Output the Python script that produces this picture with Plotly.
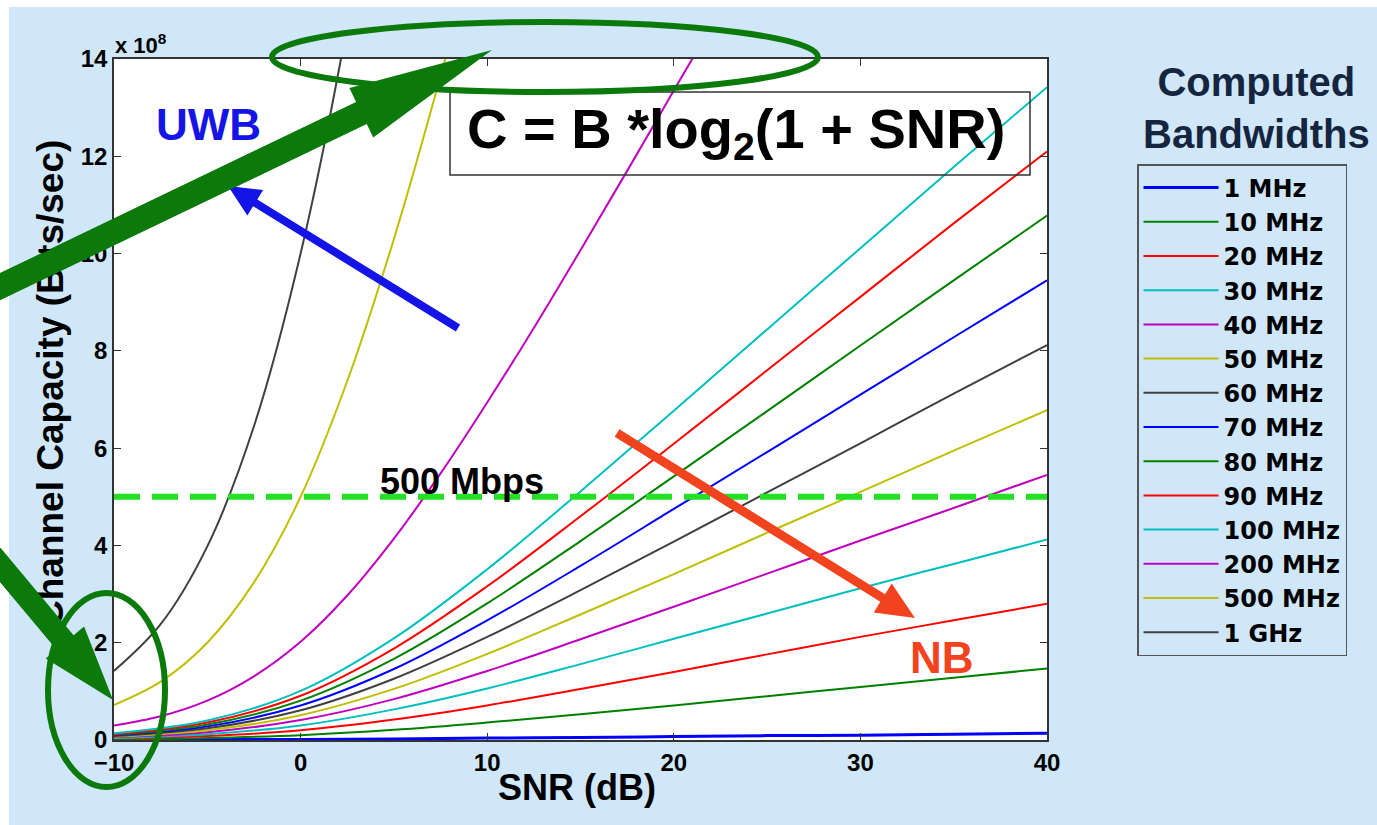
import math
import plotly.graph_objects as go

# ---------------- data (capacity in units of 1e8 bit/s) -------------
snr_db = [-10, -5, 0, 5, 10, 15, 20, 25, 30, 35, 40]
snr_db_fine = [-10, -7.5, -5, -2.5, 0, 2.5, 5, 7.5, 10, 12.5, 15, 17.5, 20, 22.5]

cap_1mhz = [0.00, 0.01, 0.01, 0.02, 0.04, 0.05, 0.07, 0.09, 0.10, 0.12, 0.14]
cap_10mhz = [0.01, 0.04, 0.10, 0.21, 0.36, 0.53, 0.71, 0.90, 1.09, 1.28, 1.47]
cap_20mhz = [0.03, 0.08, 0.20, 0.42, 0.71, 1.05, 1.40, 1.76, 2.12, 2.46, 2.80]
cap_30mhz = [0.04, 0.12, 0.30, 0.63, 1.06, 1.56, 2.08, 2.60, 3.12, 3.62, 4.12]
cap_40mhz = [0.06, 0.16, 0.41, 0.84, 1.42, 2.07, 2.74, 3.42, 4.10, 4.77, 5.45]
cap_50mhz = [0.07, 0.20, 0.51, 1.05, 1.77, 2.58, 3.41, 4.26, 5.10, 5.95, 6.78]
cap_60mhz = [0.08, 0.24, 0.61, 1.26, 2.12, 3.08, 4.08, 5.09, 6.10, 7.12, 8.12]
cap_70mhz = [0.10, 0.28, 0.71, 1.46, 2.46, 3.58, 4.75, 5.92, 7.10, 8.28, 9.45]
cap_80mhz = [0.11, 0.32, 0.81, 1.67, 2.81, 4.09, 5.42, 6.76, 8.11, 9.45, 10.78]
cap_90mhz = [0.12, 0.36, 0.91, 1.88, 3.16, 4.60, 6.09, 7.60, 9.11, 10.62, 12.10]
cap_100mhz = [0.14, 0.40, 1.01, 2.09, 3.51, 5.11, 6.77, 8.44, 10.11, 11.78, 13.42]
cap_200mhz = [0.30, 0.49, 0.81, 1.31, 2.02, 2.97, 4.14, 5.48, 6.94, 8.47, 10.07, 11.70, 13.35, 15.0]
cap_500mhz = [0.72, 1.20, 2.00, 3.24, 5.00, 7.38, 10.30, 13.65, 17.3]
cap_1ghz = [1.42, 2.38, 3.98, 6.45, 10.00, 14.70, 20.6]

series_names = ["1 MHz", "10 MHz", "20 MHz", "30 MHz", "40 MHz", "50 MHz", "60 MHz",
                "70 MHz", "80 MHz", "90 MHz", "100 MHz", "200 MHz", "500 MHz", "1 GHz"]
series_values = [cap_1mhz, cap_10mhz, cap_20mhz, cap_30mhz, cap_40mhz, cap_50mhz, cap_60mhz,
                 cap_70mhz, cap_80mhz, cap_90mhz, cap_100mhz, cap_200mhz, cap_500mhz, cap_1ghz]
series_x = [snr_db] * 11 + [snr_db_fine, snr_db_fine[:9], snr_db_fine[:7]]

threshold_mbps = 5.0  # 500 Mbps in units of 1e8
x_ticks = [-10, 0, 10, 20, 30, 40]
y_ticks = [0, 2, 4, 6, 8, 10, 12, 14]

# ---------------- style -------------
colors = ["#0000ff", "#008000", "#ff0000", "#00bfbf", "#bf00bf", "#bfbf00", "#404040"]
line_colors = [colors[i % 7] for i in range(14)]

W_FIG, H_FIG = 1377, 825
L, R, T, B = 114, 1047, 59, 740
BG = "#cfe7f8"
FONT = "Liberation Sans, Arial, sans-serif"
LEG_FONT = "DejaVu Sans, Liberation Sans, sans-serif"
GREEN = "#0b7a0b"


def px(x):
    return (x - L) / (R - L)


def py(y):
    return (B - y) / (B - T)


def arrow_path(x0, y0, x1, y1, sw, hw, hl):
    dx, dy = x1 - x0, y1 - y0
    n = math.hypot(dx, dy)
    ux, uy = dx / n, dy / n
    nx, ny = -uy, ux
    bx, by = x1 - ux * hl, y1 - uy * hl
    pts = [(x0 + nx * sw / 2, y0 + ny * sw / 2), (bx + nx * sw / 2, by + ny * sw / 2),
           (bx + nx * hw / 2, by + ny * hw / 2), (x1, y1),
           (bx - nx * hw / 2, by - ny * hw / 2), (bx - nx * sw / 2, by - ny * sw / 2),
           (x0 - nx * sw / 2, y0 - ny * sw / 2)]
    return "M " + " L ".join(f"{px(a):.5f},{py(b):.5f}" for a, b in pts) + " Z"


def shaft_box(x0, y0, x1, y1, sw, hl, color):
    """Rotated filled box (drawn as an annotation so it sits on top of the axis title)."""
    dx, dy = x1 - x0, y1 - y0
    n = math.hypot(dx, dy)
    ux, uy = dx / n, dy / n
    length = n - hl + 4
    cx, cy = x0 + ux * length / 2, y0 + uy * length / 2
    ang = math.degrees(math.atan2(dy, dx))
    return dict(text=" ", x=px(cx), y=py(cy), xref="paper", yref="paper", showarrow=False,
                xanchor="center", yanchor="middle", textangle=ang, width=length, height=sw,
                bgcolor=color, borderpad=0, borderwidth=0, font=dict(size=4, color=color))


fig = go.Figure()

for name, xs, ys, col in zip(series_names, series_x, series_values, line_colors):
    fig.add_trace(go.Scatter(
        x=xs, y=ys, mode="lines", name=name, legendgroup=name,
        line=dict(color=col, width=3 if name == "1 MHz" else 2, shape="spline", smoothing=1.0),
    ))

# 500 Mbps threshold line
fig.add_trace(go.Scatter(
    x=[x_ticks[0], x_ticks[-1]], y=[threshold_mbps, threshold_mbps], mode="lines",
    showlegend=False, line=dict(color="#22e022", width=6, dash="26px,12px"),
))

ARROW1 = (-20, 296, 492, 50, 24, 55, 145)
ARROW2 = (-15, 547, 113, 700, 22, 50, 75)

shapes = []
# white strips at image edge
shapes.append(dict(type="rect", xref="paper", yref="paper", x0=px(-5), x1=px(W_FIG + 5),
                   y0=py(-5), y1=py(7), fillcolor="white", line=dict(width=0), layer="below"))
shapes.append(dict(type="rect", xref="paper", yref="paper", x0=px(-5), x1=px(9),
                   y0=py(-5), y1=py(H_FIG + 5), fillcolor="white", line=dict(width=0), layer="below"))
# formula box
shapes.append(dict(type="rect", xref="paper", yref="paper", x0=px(450), x1=px(1030),
                   y0=py(175), y1=py(92), line=dict(color="#333333", width=1.5)))
# ellipses
shapes.append(dict(type="circle", xref="paper", yref="paper", x0=px(272), x1=px(818),
                   y0=py(92), y1=py(22), line=dict(color=GREEN, width=6)))
shapes.append(dict(type="circle", xref="paper", yref="paper", x0=px(48), x1=px(165),
                   y0=py(787), y1=py(593), line=dict(color=GREEN, width=6)))
# arrows
shapes.append(dict(type="path", xref="paper", yref="paper", path=arrow_path(*ARROW1),
                   fillcolor=GREEN, line=dict(width=0)))
shapes.append(dict(type="path", xref="paper", yref="paper", path=arrow_path(*ARROW2),
                   fillcolor=GREEN, line=dict(width=0)))
shapes.append(dict(type="path", xref="paper", yref="paper",
                   path=arrow_path(458, 328, 228, 186, 8, 30, 32),
                   fillcolor="#1414e6", line=dict(width=0)))
shapes.append(dict(type="path", xref="paper", yref="paper",
                   path=arrow_path(617, 433, 915, 618, 9, 34, 38),
                   fillcolor="#f2431f", line=dict(width=0)))


def ann(text, x, y, size, color="black", angle=0, xanchor="center"):
    return dict(text=text, x=px(x), y=py(y), xref="paper", yref="paper", showarrow=False,
                xanchor=xanchor, yanchor="middle", textangle=angle,
                font=dict(family=FONT, size=size, color=color, weight="bold"))


annotations = [
    ann("Channel Capacity (Bits/sec)", 50, 384, 37, angle=-90),
    shaft_box(ARROW1[0], ARROW1[1], ARROW1[2], ARROW1[3], ARROW1[4], ARROW1[6], GREEN),
    shaft_box(ARROW2[0], ARROW2[1], ARROW2[2], ARROW2[3], ARROW2[4], ARROW2[6], GREEN),
    ann("UWB", 208, 125, 44, "#1414e6"),
    ann("NB", 942, 657, 44, "#f2431f"),
    ann("500 Mbps", 462, 482, 36),
    ann("x 10<sup>8</sup>", 113, 44, 22, xanchor="left"),
    ann("C = B *log<sub>2</sub>(1 + SNR)", 736, 133, 56),
    ann("Computed<br>Bandwidths", 1256, 108, 40, "#152540"),
    ann("SNR (dB)", 577, 787, 36),
]

axis_common = dict(showline=True, linecolor="#333333", linewidth=1.5, mirror="ticks",
                   ticks="inside", ticklen=7, tickcolor="#333333", showgrid=False,
                   zeroline=False,
                   tickfont=dict(family=FONT, size=24, color="black", weight="bold"))

fig.update_layout(
    width=W_FIG, height=H_FIG,
    margin=dict(l=L, r=W_FIG - R, t=T, b=H_FIG - B, autoexpand=False),
    paper_bgcolor=BG, plot_bgcolor="white",
    xaxis=dict(range=[-10, 40], tickvals=x_ticks, **axis_common),
    yaxis=dict(range=[0, 14], tickvals=y_ticks, **axis_common),
    showlegend=True,
    legend=dict(x=px(1137), y=py(164), xanchor="left", yanchor="top",
                bgcolor="rgba(0,0,0,0)", bordercolor="#555555", borderwidth=1.5,
                font=dict(family=LEG_FONT, size=24, color="black", weight="bold"),
                tracegroupgap=0, itemwidth=75),
    shapes=shapes, annotations=annotations,
)

fig.write_html("out.html")
